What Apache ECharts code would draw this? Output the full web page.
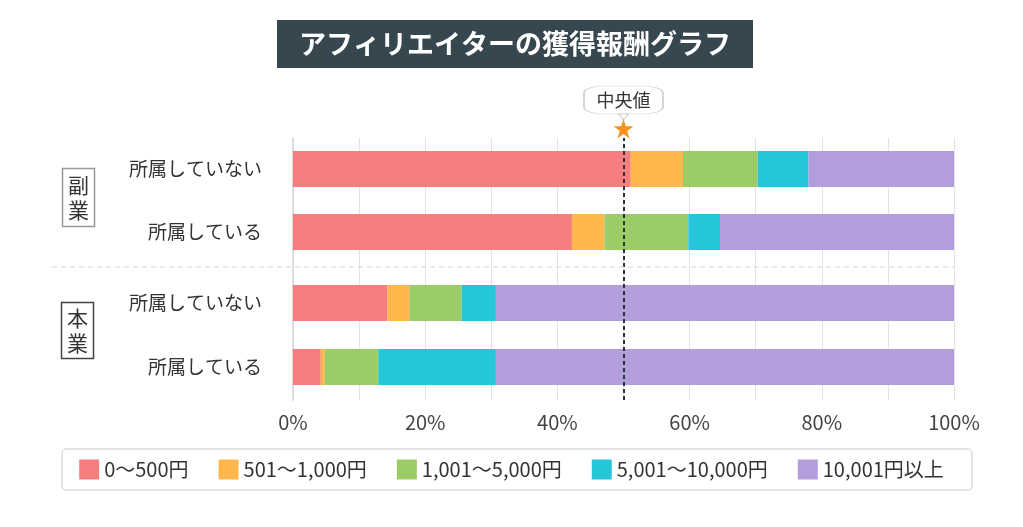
<!DOCTYPE html>
<html><head><meta charset="utf-8">
<script src="https://cdn.jsdelivr.net/npm/echarts@6/dist/echarts.min.js"></script>
<style>html,body{margin:0;padding:0;background:#fff}#c{width:1023px;height:527px}</style>
</head><body><div id="c"></div>
<script>
// ---- data ----
const titleText = "アフィリエイターの獲得報酬グラフ";
const categories = ["所属していない", "所属している"];
const groups = ["副業", "本業"];
const brackets = ["0～500円", "501～1,000円", "1,001～5,000円", "5,001～10,000円", "10,001円以上"];
// shares (%) per bracket, rows = categories
const sideJob0to500 = [51.1, 42.2];
const sideJob501to1000 = [7.9, 4.9];
const sideJob1001to5000 = [11.3, 12.7];
const sideJob5001to10000 = [7.7, 4.8];
const sideJob10001plus = [22.0, 35.4];
const mainJob0to500 = [14.3, 4.2];
const mainJob501to1000 = [3.3, 0.6];
const mainJob1001to5000 = [7.9, 8.1];
const mainJob5001to10000 = [5.2, 17.8];
const mainJob10001plus = [69.3, 69.3];
const medianValue = 50;
const medianLabel = "中央値";
const colors = ["#F77E7E", "#FFB74D", "#9CCC65", "#26C6DA", "#B39DDB"];

const sideJob = [sideJob0to500, sideJob501to1000, sideJob1001to5000, sideJob5001to10000, sideJob10001plus];
const mainJob = [mainJob0to500, mainJob501to1000, mainJob1001to5000, mainJob5001to10000, mainJob10001plus];

const FONT = "'Noto Sans CJK JP', 'Noto Sans', sans-serif";
const chart = echarts.init(document.getElementById('c'), null, {renderer: 'canvas'});

function barSeries(vals, gi) {
  return brackets.map((b, i) => ({
    name: b, type: 'bar', stack: 'g' + gi,
    xAxisIndex: gi, yAxisIndex: gi,
    barWidth: 36, itemStyle: {color: colors[i]},
    data: vals[i], silent: true
  }));
}

const hiddenX = (gi) => ({gridIndex: gi, type: 'value', min: 0, max: 100, show: false});
const catY = (gi) => ({
  gridIndex: gi, type: 'category', data: categories, inverse: true,
  axisLine: {show: false}, axisTick: {show: false}, splitLine: {show: false},
  axisLabel: {fontSize: 19, color: '#333', margin: 31, fontFamily: FONT}
});

const option = {
  animation: false,
  textStyle: {fontFamily: FONT},
  grid: [
    {left: 293, right: 69, top: 137.5, height: 126},
    {left: 293, right: 69, top: 271, height: 128},
    {left: 293, right: 69, top: 138, bottom: 127}
  ],
  xAxis: [hiddenX(0), hiddenX(1), {
    gridIndex: 2, type: 'value', min: 0, max: 100, interval: 10,
    axisLine: {show: false}, axisTick: {show: false},
    splitLine: {show: true, lineStyle: {color: '#e3e3e3', width: 1}},
    axisLabel: {fontSize: 20, color: '#444', margin: 12, fontFamily: FONT,
      formatter: v => (v % 20 === 0 ? v + '%' : '')}
  }],
  yAxis: [catY(0), catY(1), {
    gridIndex: 2, type: 'value', min: 0, max: 1, show: true,
    axisLine: {show: true, lineStyle: {color: '#dcdcdc', width: 2}},
    axisTick: {show: false}, axisLabel: {show: false}, splitLine: {show: false}
  }],
  legend: {
    data: brackets, left: 'center', top: 459.5, padding: 0,
    itemWidth: 20, itemHeight: 20, itemGap: 30, icon: 'rect',
    textStyle: {fontSize: 20, color: '#333', fontFamily: FONT}
  },
  series: [
    ...barSeries(sideJob, 0),
    ...barSeries(mainJob, 1),
    {
      type: 'scatter', xAxisIndex: 2, yAxisIndex: 2, data: [], clip: false, silent: true, z: 10,
      markLine: {
        silent: true, symbol: ['none', 'none'], label: {show: false},
        lineStyle: {type: [4, 3], color: '#263238', width: 2},
        data: [{xAxis: medianValue}]
      },
      markPoint: {
        silent: true,
        data: [
          {coord: [medianValue, 1], symbol: 'roundRect', symbolSize: [79, 28], symbolOffset: [0, -38],
           itemStyle: {color: '#fff', borderColor: '#cfcfcf', borderWidth: 1},
           label: {show: true, position: 'inside', formatter: medianLabel, fontSize: 18, color: '#333', fontFamily: FONT}},
          {coord: [medianValue, 1], symbol: 'path://M0,0L10,0L5,6Z', symbolSize: [10, 6], symbolOffset: [0, -21],
           itemStyle: {color: '#fff', borderColor: '#cfcfcf', borderWidth: 1}, label: {show: false}},
          {coord: [medianValue, 1], symbol: 'path://M50,0L61,35L98,35L68,57L79,91L50,70L21,91L32,57L2,35L39,35Z',
           symbolSize: 20, symbolOffset: [0, -9.5],
           itemStyle: {color: '#F7931E'}, label: {show: false}}
        ]
      }
    }
  ],
  graphic: [
    {type: 'rect', shape: {x: 277, y: 20, width: 476, height: 48}, style: {fill: '#37474F'}},
    {type: 'text', x: 515, y: 44, style: {text: titleText, fill: '#fff', fontSize: 27, fontWeight: 'bold',
      fontFamily: FONT, textAlign: 'center', textVerticalAlign: 'middle'}},
    {type: 'line', shape: {x1: 52, y1: 267, x2: 954, y2: 267}, z: 20,
      style: {stroke: '#d6d6d6', lineWidth: 1, lineDash: [5, 4]}},
    {type: 'rect', shape: {x: 62.5, y: 168.5, width: 32, height: 58}, style: {fill: '#fff', stroke: '#999', lineWidth: 1.5}},
    {type: 'text', x: 78.5, y: 198, style: {text: groups[0].split('').join('\n'), fill: '#333', fontSize: 21,
      lineHeight: 25, fontFamily: FONT, textAlign: 'center', textVerticalAlign: 'middle'}},
    {type: 'rect', shape: {x: 61.5, y: 302.5, width: 32, height: 56}, style: {fill: '#fff', stroke: '#444', lineWidth: 1.5}},
    {type: 'text', x: 77.5, y: 331, style: {text: groups[1].split('').join('\n'), fill: '#333', fontSize: 21,
      lineHeight: 25, fontFamily: FONT, textAlign: 'center', textVerticalAlign: 'middle'}},
    {type: 'rect', shape: {x: 62, y: 449, width: 910, height: 41, r: 4}, z: -1,
      style: {fill: '#fff', stroke: '#dcdcdc', lineWidth: 1.5}}
  ]
};
chart.setOption(option);
</script></body></html>
